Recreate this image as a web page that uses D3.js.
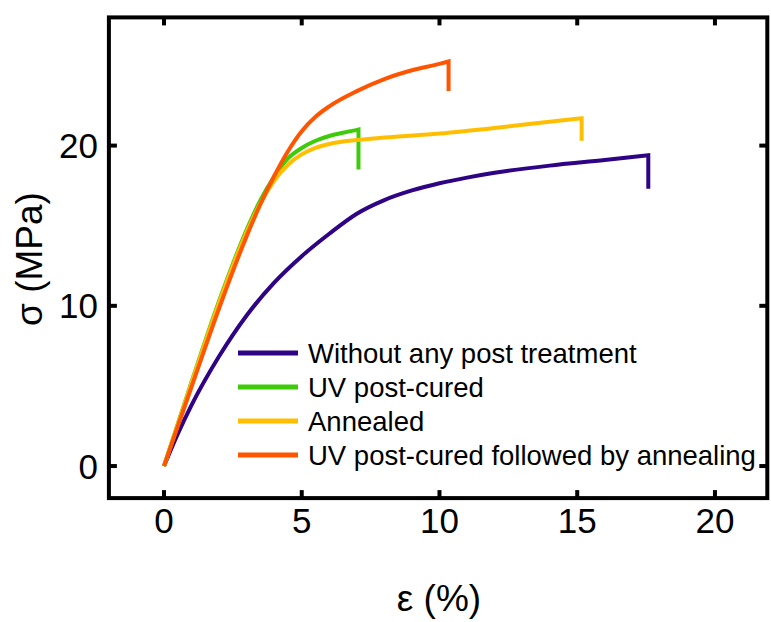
<!DOCTYPE html>
<html>
<head>
<meta charset="utf-8">
<script src="https://cdn.jsdelivr.net/npm/d3@7/dist/d3.min.js"></script>
<style>
	html, body { margin: 0; padding: 0; background: #fff; }
	svg { display: block; font-family: "Liberation Sans", Arial, sans-serif; }
</style>
</head>
<body>
<div id="app"></div>
<script>
// strain (%) / stress (MPa); last point is the break drop
const withoutStrain = [0, 0.5, 1, 2, 3, 4, 5, 6, 7, 8, 9, 10, 11, 12, 14, 16, 17.58, 17.58];
const withoutStress = [0, 2.0, 3.8, 6.85, 9.4, 11.45, 13.1, 14.5, 15.75, 16.6, 17.2, 17.65, 18.0, 18.3, 18.75, 19.1, 19.4, 17.3];
const uvStrain = [0, 1, 2, 3, 3.5, 4, 4.5, 5, 5.5, 6, 6.5, 7.06, 7.06];
const uvStress = [0, 5.25, 10.3, 14.75, 16.6, 18.05, 19.2, 19.85, 20.3, 20.6, 20.8, 21.0, 18.5];
const annealStrain = [0, 1, 2, 3, 3.5, 4, 4.5, 5, 5.5, 6, 7, 8, 10, 12, 13.5, 15.16, 15.16];
const annealStress = [0, 5.2, 10.2, 14.6, 16.4, 17.8, 18.8, 19.45, 19.85, 20.1, 20.35, 20.5, 20.75, 21.1, 21.4, 21.7, 20.3];
const bothStrain = [0, 1, 2, 3, 3.5, 4, 4.5, 5, 5.5, 6, 7, 8, 9, 10, 10.33, 10.33];
const bothStress = [0, 4.95, 9.85, 14.35, 16.35, 18.1, 19.65, 20.9, 21.8, 22.45, 23.4, 24.15, 24.7, 25.1, 25.25, 23.4];

const seriesNames = ['Without any post treatment', 'UV post-cured', 'Annealed', 'UV post-cured followed by annealing'];
const seriesColors = ['#2e0384', '#3ecc0a', '#ffbf00', '#ff5500'];
const strainTicks = [0, 5, 10, 15, 20];
const stressTicks = [0, 10, 20];

const zip = (xs, ys) => xs.map((x, i) => ({x, y: ys[i]}));
const series = [
	zip(withoutStrain, withoutStress),
	zip(uvStrain, uvStress),
	zip(annealStrain, annealStress),
	zip(bothStrain, bothStress),
];

const width = 771, height = 622;
const svg = d3.select('#app').append('svg')
	.attr('width', width)
	.attr('height', height);

const x = d3.scaleLinear().domain([-2, 21.9]).range([108.9, 767.3]);
const y = d3.scaleLinear().domain([-2, 28]).range([498.1, 17.4]);

// curves: smooth part, then the straight break drop
const smooth = d3.line()
	.x((d) => x(d.x))
	.y((d) => y(d.y))
	.curve(d3.curveMonotoneX);

svg.append('g')
	.selectAll('path')
	.data(series)
	.enter()
	.append('path')
	.attr('fill', 'none')
	.attr('stroke', (d, i) => seriesColors[i])
	.attr('stroke-width', 4)
	.attr('stroke-linejoin', 'miter')
	.attr('d', (d) => {
		const last = d[d.length - 1];
		return smooth(d.slice(0, -1)) + `L${x(last.x)},${y(last.y)}`;
	});

// frame with inward ticks on all sides
const frame = svg.append('g');
const [x0, x1] = x.range();
const [y0, y1] = y.range();
frame.append('rect')
	.attr('x', x0)
	.attr('y', y1)
	.attr('width', x1 - x0)
	.attr('height', y0 - y1)
	.attr('fill', 'none')
	.attr('stroke', '#000')
	.attr('stroke-width', 4);

const tickLen = 8;
strainTicks.forEach((t) => {
	frame.append('line').attr('x1', x(t)).attr('x2', x(t)).attr('y1', y0).attr('y2', y0 - tickLen)
		.attr('stroke', '#000').attr('stroke-width', 4);
	frame.append('line').attr('x1', x(t)).attr('x2', x(t)).attr('y1', y1).attr('y2', y1 + tickLen)
		.attr('stroke', '#000').attr('stroke-width', 4);
});
stressTicks.forEach((t) => {
	frame.append('line').attr('x1', x0).attr('x2', x0 + tickLen).attr('y1', y(t)).attr('y2', y(t))
		.attr('stroke', '#000').attr('stroke-width', 4);
	frame.append('line').attr('x1', x1).attr('x2', x1 - tickLen).attr('y1', y(t)).attr('y2', y(t))
		.attr('stroke', '#000').attr('stroke-width', 4);
});

// tick labels
svg.append('g')
	.selectAll('text')
	.data(strainTicks)
	.enter()
	.append('text')
	.attr('x', (d) => x(d))
	.attr('y', 533)
	.attr('text-anchor', 'middle')
	.attr('font-size', 35)
	.text((d) => d);

svg.append('g')
	.selectAll('text')
	.data(stressTicks)
	.enter()
	.append('text')
	.attr('x', 98)
	.attr('y', (d) => y(d) + 12.5)
	.attr('text-anchor', 'end')
	.attr('font-size', 35)
	.text((d) => d);

// axis titles
svg.append('text')
	.attr('transform', 'translate(42,259) rotate(-90)')
	.attr('text-anchor', 'middle')
	.attr('font-size', 37)
	.text('σ (MPa)');

svg.append('text')
	.attr('x', 439)
	.attr('y', 611)
	.attr('text-anchor', 'middle')
	.attr('font-size', 37)
	.text('ε (%)');

// legend
const legend = svg.append('g')
	.selectAll('g')
	.data(seriesNames)
	.enter()
	.append('g')
	.attr('transform', (d, i) => `translate(238,${353 + i * 34})`);

legend.append('line')
	.attr('x1', 0)
	.attr('x2', 60)
	.attr('stroke', (d, i) => seriesColors[i])
	.attr('stroke-width', 5);

legend.append('text')
	.attr('x', 70)
	.attr('y', 10)
	.attr('font-size', 27.5)
	.text((d) => d);
</script>
</body>
</html>
